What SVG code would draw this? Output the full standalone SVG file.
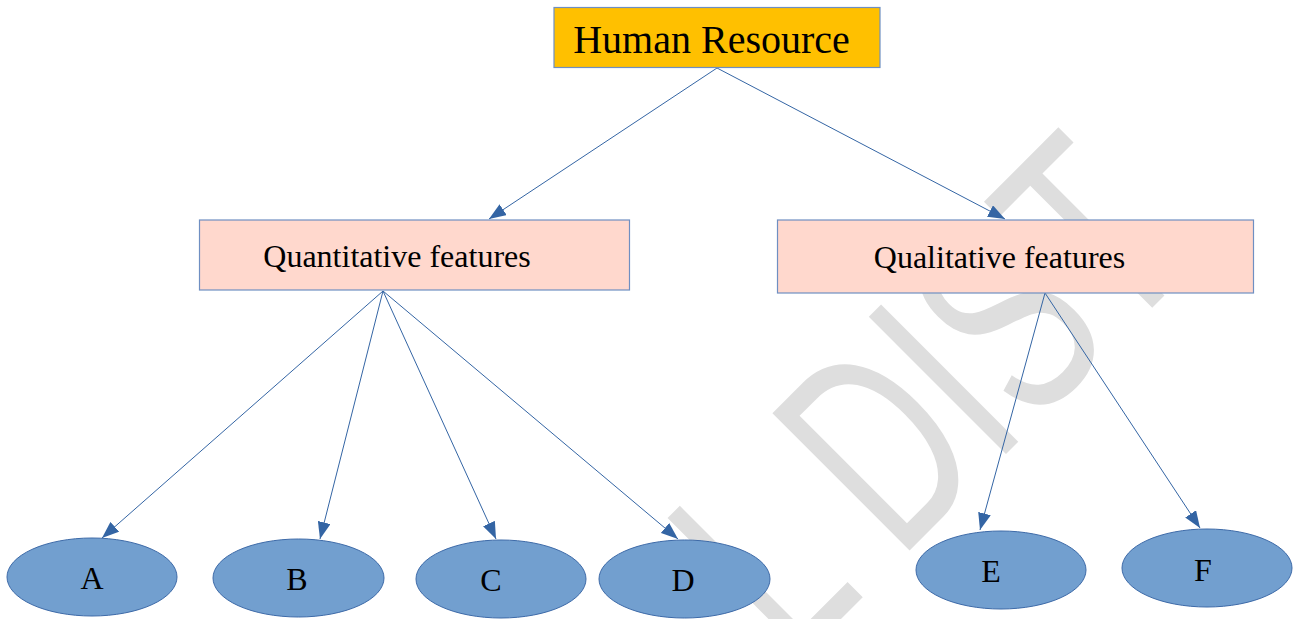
<svg xmlns="http://www.w3.org/2000/svg" width="1295" height="619" viewBox="0 0 1295 619">
<style>
.box{stroke:#6f8fc2;stroke-width:1.2}
.ell{fill:#729fcf;stroke:#3d6aa8;stroke-width:1}
.lbl{font-family:"Liberation Serif","Times New Roman",serif;fill:#000;text-anchor:middle}
.con{stroke:#3465a4;stroke-width:1;fill:none;marker-end:url(#ah)}
.wm{font-family:"Liberation Sans",Arial,sans-serif;fill:#dedede}
</style>
<defs>
<marker id="ah" viewBox="0 0 17 13" refX="17" refY="6.5" markerWidth="17" markerHeight="13" markerUnits="userSpaceOnUse" orient="auto">
<path d="M0,0 L17,6.5 L0,13 z" fill="#3465a4"/>
</marker>
</defs>
<rect width="1295" height="619" fill="#ffffff"/>
<g id="watermark" transform="translate(912,548) rotate(-45)">
<text class="wm" transform="scale(0.66,1)" x="-253" y="0" font-size="282">L DIST</text>
</g>
<g id="connectors">
<line class="con" x1="717" y1="68" x2="489" y2="219"/>
<line class="con" x1="717" y1="68" x2="1005" y2="219"/>
<line class="con" x1="383" y1="291" x2="102" y2="538"/>
<line class="con" x1="383" y1="291" x2="320" y2="539"/>
<line class="con" x1="383" y1="291" x2="496" y2="539"/>
<line class="con" x1="383" y1="291" x2="678" y2="539"/>
<line class="con" x1="1045" y1="293" x2="980" y2="530"/>
<line class="con" x1="1045" y1="293" x2="1200" y2="528"/>
</g>
<g id="human-resource">
<rect class="box" x="554" y="7.5" width="326" height="60" fill="#ffc000"/>
<text class="lbl" x="711.5" y="52.5" font-size="40">Human Resource</text>
</g>
<g id="quantitative">
<rect class="box" x="199.5" y="220" width="430" height="70" fill="#ffd8cd"/>
<text class="lbl" x="397" y="267" font-size="32">Quantitative features</text>
</g>
<g id="qualitative">
<rect class="box" x="777.5" y="220" width="476" height="73" fill="#ffd8cd"/>
<text class="lbl" x="999.5" y="267.5" font-size="32">Qualitative features</text>
</g>
<g id="node-a">
<ellipse class="ell" cx="92" cy="577" rx="85" ry="39"/>
<text class="lbl" x="92" y="589" font-size="32">A</text>
</g>
<g id="node-b">
<ellipse class="ell" cx="298.5" cy="578" rx="85.5" ry="39"/>
<text class="lbl" x="297" y="590" font-size="32">B</text>
</g>
<g id="node-c">
<ellipse class="ell" cx="501" cy="579" rx="85" ry="39"/>
<text class="lbl" x="491" y="591" font-size="32">C</text>
</g>
<g id="node-d">
<ellipse class="ell" cx="684.5" cy="579" rx="85.5" ry="39"/>
<text class="lbl" x="683" y="591" font-size="32">D</text>
</g>
<g id="node-e">
<ellipse class="ell" cx="1001" cy="570" rx="85" ry="39"/>
<text class="lbl" x="991" y="582" font-size="32">E</text>
</g>
<g id="node-f">
<ellipse class="ell" cx="1207" cy="568" rx="85" ry="39"/>
<text class="lbl" x="1203" y="581" font-size="32">F</text>
</g>
</svg>
